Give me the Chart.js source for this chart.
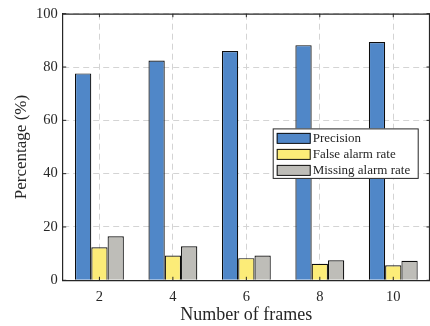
<!DOCTYPE html>
<html>
<head>
<meta charset="utf-8">
<script src="https://cdn.jsdelivr.net/npm/chart.js@4/dist/chart.umd.min.js"></script>
<style>
  html, body { margin: 0; padding: 0; background: #ffffff; }
  #wrap { width: 430px; height: 326px; }
</style>
</head>
<body>
<div id="wrap"><canvas id="c" width="430" height="326"></canvas></div>
<script>
// Frame counts on the x axis
const frames = ['2', '4', '6', '8', '10'];
// Detection metrics (%) for each frame count
const precision = [77.6, 82.4, 86.0, 88.2, 89.4];
const falseAlarm = [12.4, 9.3, 8.3, 6.2, 5.6];
const missingAlarm = [16.5, 12.8, 9.3, 7.5, 7.3];
// Y-axis tick values
const yTicks = [0, 20, 40, 60, 80, 100];

const serif = '"Liberation Serif", "Times New Roman", serif';
const ink = '#262626';

// Boxed axes with inward tick marks on all four sides
const boxAxes = {
  id: 'boxAxes',
  afterDraw(chart) {
    const { ctx, chartArea: a, scales } = chart;
    ctx.save();
    ctx.strokeStyle = ink;
    ctx.lineWidth = 1.2;
    ctx.beginPath();
    ctx.moveTo(a.left, a.top + 0.5);
    ctx.lineTo(a.right, a.top + 0.5);
    ctx.moveTo(a.right - 0.5, a.top);
    ctx.lineTo(a.right - 0.5, a.bottom);
    ctx.stroke();
    ctx.lineWidth = 1;
    const t = 3.5;
    ctx.beginPath();
    yTicks.forEach(v => {
      const y = scales.y.getPixelForValue(v);
      ctx.moveTo(a.left, y); ctx.lineTo(a.left + t, y);
      ctx.moveTo(a.right, y); ctx.lineTo(a.right - t, y);
    });
    frames.forEach((f, i) => {
      const x = scales.x.getPixelForValue(i);
      ctx.moveTo(x, a.bottom); ctx.lineTo(x, a.bottom - t);
      ctx.moveTo(x, a.top); ctx.lineTo(x, a.top + t);
    });
    ctx.stroke();
    ctx.restore();
  }
};

// Legend box placed inside the plot area, right side
const innerLegend = {
  id: 'innerLegend',
  afterDraw(chart) {
    const { ctx, chartArea: a } = chart;
    const boxW = 146, boxH = 50.5;
    const x0 = a.right - 11.3 - boxW;
    const y0 = a.top + 114.7;
    ctx.save();
    ctx.fillStyle = '#ffffff';
    ctx.fillRect(x0, y0, boxW, boxH);
    ctx.strokeStyle = ink;
    ctx.lineWidth = 1;
    ctx.strokeRect(x0 + 0.5, y0 + 0.5, boxW - 1, boxH - 1);
    ctx.font = '13px ' + serif;
    ctx.textBaseline = 'middle';
    ctx.textAlign = 'left';
    chart.data.datasets.forEach((ds, i) => {
      const cy = y0 + 9.5 + i * 16;
      ctx.fillStyle = ds.backgroundColor;
      ctx.fillRect(x0 + 4, cy - 5, 34, 10.5);
      ctx.strokeStyle = '#111111';
      ctx.strokeRect(x0 + 4.5, cy - 4.5, 33, 10);
      ctx.fillStyle = ink;
      ctx.fillText(ds.label, x0 + 40, cy + 0.5);
    });
    ctx.restore();
  }
};

new Chart(document.getElementById('c'), {
  type: 'bar',
  data: {
    labels: frames,
    datasets: [
      { label: 'Precision', data: precision, backgroundColor: '#5087C8' },
      { label: 'False alarm rate', data: falseAlarm, backgroundColor: '#FCEC78' },
      { label: 'Missing alarm rate', data: missingAlarm, backgroundColor: '#BEBDB8' }
    ]
  },
  options: {
    responsive: false,
    animation: false,
    devicePixelRatio: 1,
    layout: { padding: { top: 12.3, right: 0, left: 0, bottom: 0 } },
    datasets: {
      bar: {
        categoryPercentage: 0.665,
        barPercentage: 1.0,
        borderColor: '#0d0d0d',
        borderWidth: 1.2,
        inflateAmount: 0
      }
    },
    plugins: {
      legend: { display: false },
      tooltip: { enabled: false }
    },
    scales: {
      x: {
        afterFit(s) { s.height = 45.7; },
        grid: {
          offset: false,
          color: '#d4d4d4',
          lineWidth: 1,
          drawTicks: false
        },
        border: { color: ink, width: 1.2, dash: [6, 4] },
        ticks: {
          color: ink,
          font: { family: serif, size: 14.5 },
          padding: 8
        },
        title: {
          display: true,
          text: 'Number of frames',
          color: ink,
          font: { family: serif, size: 18 },
          padding: { top: 0, bottom: 0 }
        }
      },
      y: {
        min: 0,
        max: 100,
        afterFit(s) { s.width = 62.7; },
        afterBuildTicks(s) { s.ticks = yTicks.map(v => ({ value: v })); },
        grid: {
          color: '#d4d4d4',
          lineWidth: 1,
          drawTicks: false
        },
        border: { color: ink, width: 1.2, dash: [6, 4] },
        ticks: {
          color: ink,
          font: { family: serif, size: 14.5 },
          padding: 5
        },
        title: {
          display: true,
          text: 'Percentage (%)',
          color: ink,
          font: { family: serif, size: 17 },
          padding: { top: 11, bottom: 0 }
        }
      }
    }
  },
  plugins: [boxAxes, innerLegend]
});
</script>
</body>
</html>
